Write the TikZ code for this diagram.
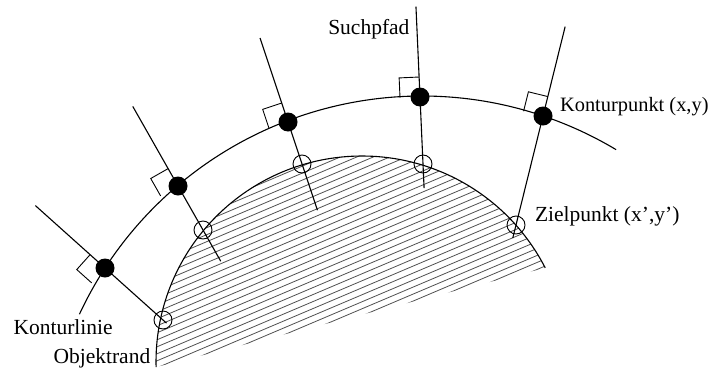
\documentclass[tikz,border=0pt]{standalone}
\usepackage{fontspec}
\setmainfont{Liberation Serif}
\usepackage{tikz}
\usetikzlibrary{positioning, calc}
\definecolor{schraffur}{RGB}{80,80,80}

\begin{document}
\begin{tikzpicture}[x=1pt, y=-1pt, line width=1.1pt,
  font=\fontsize{21.5}{25}\selectfont,
  punkt/.style={circle, fill=black, inner sep=0pt, minimum size=19pt},
  ziel/.style={circle, draw=black, line width=0.9pt, inner sep=0pt, minimum size=18pt},
  beschr/.style={inner sep=0pt}]
\def\wk{20pt}
\useasboundingbox (0,0) rectangle (719,367);
% Objekt (schraffiert)
\coordinate (om) at (362,362);
\begin{scope}
\clip ([shift={(178.6:206)}]om) arc[start angle=178.6, end angle=332.8, radius=206] -- cycle;
\foreach \y in {200,207,...,480}
  \draw[schraffur, line width=0.8pt] (140,\y) -- ++(-23:480);
\end{scope}
\draw ([shift={(178.6:206)}]om) arc[start angle=178.6, end angle=332.8, radius=206];
% Konturlinie
\coordinate (km) at (422,474);
\draw ([shift={(205:378)}]km) arc[start angle=205, end angle=300.9, radius=378];
% Konturpunkte und Zielpunkte
\node[punkt] (k1) at (105,268) {};
\node[punkt] (k2) at (178,186) {};
\node[punkt] (k3) at (288,122) {};
\node[punkt] (k4) at (420,97) {};
\node[punkt] (k5) at (543,116) {};
\node[ziel] (z1) at (163,320) {};
\node[ziel] (z2) at (203,230) {};
\node[ziel] (z3) at (302,164) {};
\node[ziel] (z4) at (423,164) {};
\node[ziel] (z5) at (516,225) {};
% Suchpfade
\coordinate (s1) at ($(k1)!-1.2!(z1)$);  \coordinate (e1) at ($(k1)!1.06!(z1)$);
\coordinate (s2) at ($(k2)!-1.81!(z2)$); \coordinate (e2) at ($(k2)!1.71!(z2)$);
\coordinate (s3) at ($(k3)!-2.0!(z3)$);  \coordinate (e3) at ($(k3)!2.1!(z3)$);
\coordinate (s4) at ($(k4)!-1.35!(z4)$); \coordinate (e4) at ($(k4)!1.36!(z4)$);
\coordinate (s5) at ($(k5)!-0.82!(z5)$); \coordinate (e5) at ($(k5)!1.12!(z5)$);
\foreach \i in {1,...,5}
  \draw (s\i) -- (e\i);
% rechte Winkel
\foreach \i in {1,...,5}
  \draw[line width=0.9pt] ($(k\i)!\wk!(s\i)$) -- ($(k\i)!\wk!(s\i)!\wk!-90:(k\i)$) -- ($(k\i)!\wk!90:(s\i)$);
% Beschriftung
\node[beschr, anchor=base east] (suchpfad) at (410,34) {Suchpfad};
\node[beschr, right=6.5pt of k5, yshift=9.3pt, font=\fontsize{20.4}{24}\selectfont] (kpunkt) {Konturpunkt (x,y)};
\node[beschr, right=9pt of z5, yshift=8.6pt] (zpunkt) {Zielpunkt (x’,y’)};
\node[beschr, anchor=base west] (klinie) at (13,334) {Konturlinie};
\node[beschr, anchor=base west] (orand) at (53,363) {Objektrand};
\end{tikzpicture}
\end{document}
